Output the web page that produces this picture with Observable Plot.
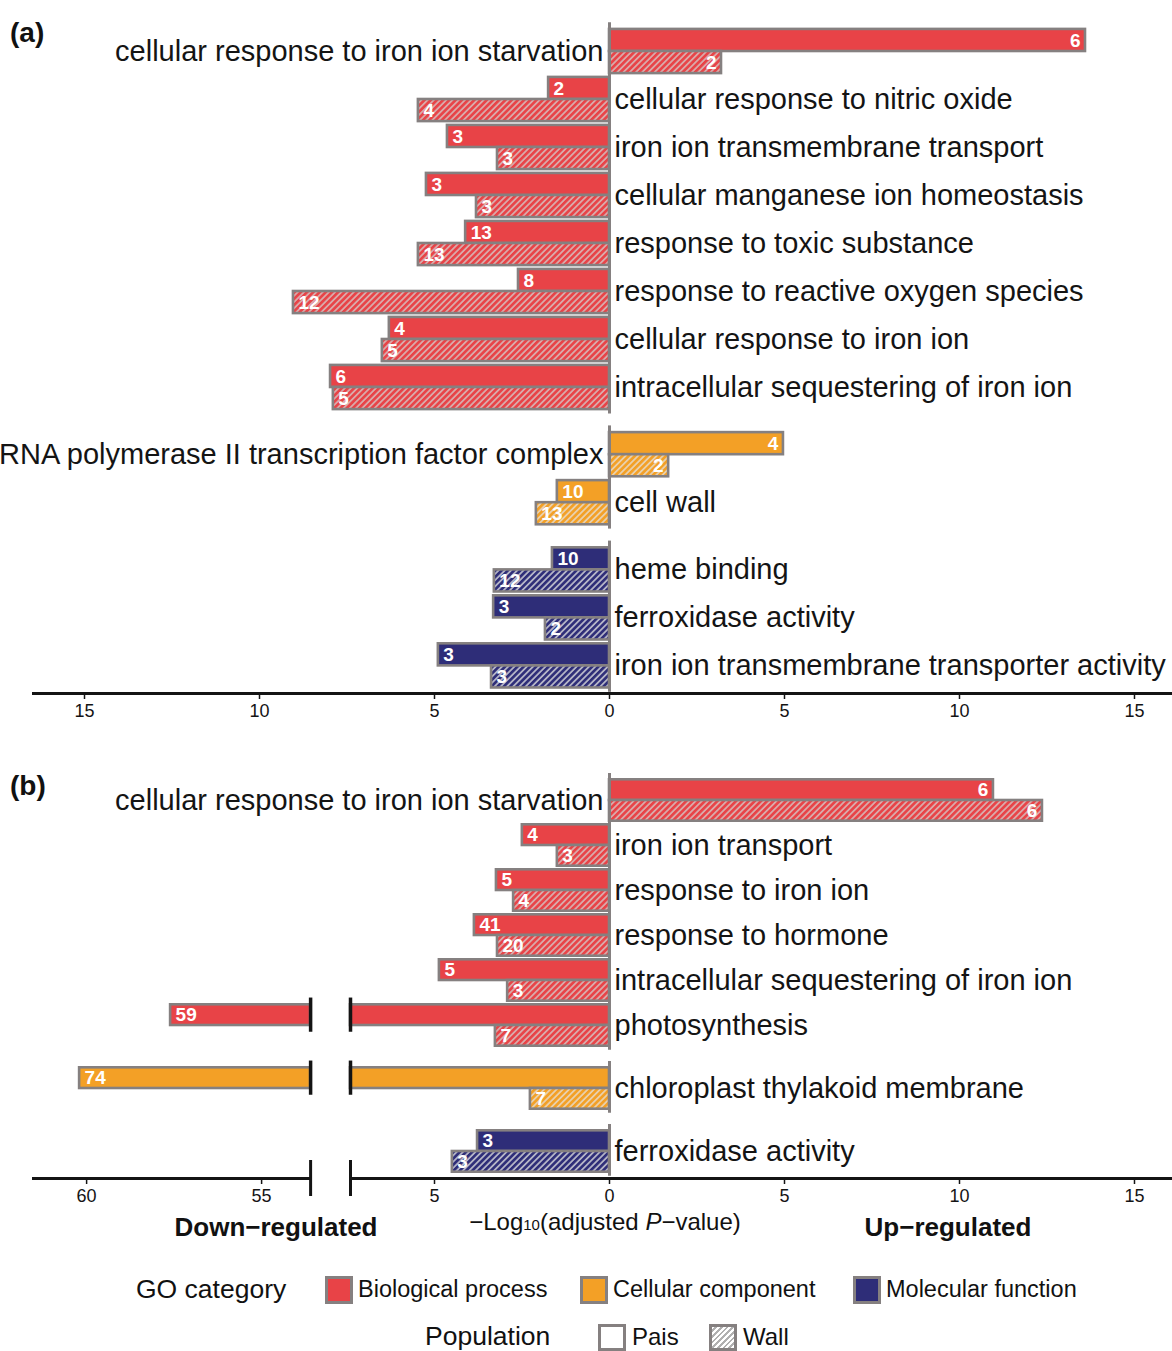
<!DOCTYPE html>
<html><head><meta charset="utf-8">
<script src="https://cdn.jsdelivr.net/npm/d3@7"></script>
<script src="https://cdn.jsdelivr.net/npm/@observablehq/plot@0.6"></script>
<style>
body{margin:0;background:#fff;font-family:"Liberation Sans",Arial,sans-serif;}
#wrap{position:relative;width:1172px;height:1351px;overflow:hidden;}
#wrap svg.plot{position:absolute;left:0;}
.t{position:absolute;white-space:nowrap;color:#111;line-height:1;}
.sw{position:absolute;box-sizing:border-box;border:3px solid #858080;}
</style></head><body><div id="wrap"></div>
<script>
// ---------- data: panel (a) ----------
const termsA = [
  "cellular response to iron ion starvation",
  "cellular response to nitric oxide",
  "iron ion transmembrane transport",
  "cellular manganese ion homeostasis",
  "response to toxic substance",
  "response to reactive oxygen species",
  "cellular response to iron ion",
  "intracellular sequestering of iron ion",
  "RNA polymerase II transcription factor complex",
  "cell wall",
  "heme binding",
  "ferroxidase activity",
  "iron ion transmembrane transporter activity"
];
const catA = ["BP","BP","BP","BP","BP","BP","BP","BP","CC","CC","MF","MF","MF"];
// signed -log10(adj P): negative = down-regulated, positive = up-regulated
const paisA = [13.6, -1.74, -4.63, -5.23, -4.11, -2.6, -6.29, -7.97, 4.97, -1.49, -1.63, -3.31, -4.89];
const wallA = [3.2, -5.46, -3.2, -3.8, -5.46, -9.03, -6.49, -7.89, 1.69, -2.09, -3.29, -1.83, -3.37];
const paisCountA = [6, 2, 3, 3, 13, 8, 4, 6, 4, 10, 10, 3, 3];
const wallCountA = [2, 4, 3, 3, 13, 12, 5, 5, 2, 13, 12, 2, 3];
const ticksA = [-15, -10, -5, 0, 5, 10, 15];

// ---------- data: panel (b) ----------
const termsB = [
  "cellular response to iron ion starvation",
  "iron ion transport",
  "response to iron ion",
  "response to hormone",
  "intracellular sequestering of iron ion",
  "photosynthesis",
  "chloroplast thylakoid membrane",
  "ferroxidase activity"
];
const catB = ["BP","BP","BP","BP","BP","BP","CC","MF"];
const paisB = [10.97, -2.49, -3.23, -3.86, -4.86, -57.6, -60.2, -3.77];
const wallB = [12.37, -1.49, -2.74, -3.2, -2.91, -3.26, -2.26, -4.49];
const paisCountB = [6, 4, 5, 41, 5, 59, 74, 3];
const wallCountB = [6, 3, 4, 20, 3, 7, 7, 3];
const ticksB = [-60, -55, -5, 0, 5, 10, 15];
// broken axis on the down-regulated side: values between 7.4 and 53.6 are cut out
const axisBreakB = {from: 7.4, to: 53.6, gap: 1.14};

// ---------- legend ----------
const goCategories = ["BP", "CC", "MF"];
const goLabels = ["Biological process", "Cellular component", "Molecular function"];
const populations = ["Pais", "Wall"];

// ---------- styles ----------
const COLORS = {BP: "#e84347", CC: "#f3a026", MF: "#2e2d78"};
const HATCH_BG = {BP: "#d9aaaa", CC: "#e9d0ac", MF: "#b4b4c6"};
const OUTLINE = "#858080";
const INK = "#141414";
const SANS = "'Liberation Sans', Arial, sans-serif";
const NARROW = "'Liberation Sans Narrow', 'Liberation Sans', Arial, sans-serif";
const GROUP_GAP = 0.4, BAR = 0.46;
const X_DOMAIN = [-16.486, 16.086];

const wrap = d3.select("#wrap");

// hatch patterns
const defs = wrap.append("svg").attr("width", 0).attr("height", 0)
  .style("position", "absolute").append("defs");
for (const k of goCategories) {
  const s = 4.4;
  const p = defs.append("pattern").attr("id", "hatch-" + k)
    .attr("patternUnits", "userSpaceOnUse").attr("width", s).attr("height", s)
    .attr("patternTransform", "rotate(45)");
  p.append("rect").attr("width", s).attr("height", s).attr("fill", HATCH_BG[k]);
  p.append("line").attr("x1", 1.3).attr("x2", 1.3).attr("y1", 0).attr("y2", s)
    .attr("stroke", COLORS[k]).attr("stroke-width", 2.6);
}

function rowPositions(cats) {
  let g = 0;
  return cats.map((c, i) => { if (i > 0 && c !== cats[i - 1]) g++; return i + g * GROUP_GAP; });
}

function panel({terms, cats, pais, wall, paisN, wallN, ticks, brk, height, marginTop, marginBottom, axisOffset, top}) {
  const pos = rowPositions(cats);
  const shift = brk ? brk.to - brk.from - brk.gap : 0;
  const broken = v => brk && v < -brk.from;
  const disp = v => broken(v) ? v + shift : v;
  const bars = [];
  terms.forEach((t, i) => {
    const r = pos[i];
    bars.push({term: t, cat: cats[i], pop: "Pais", v: pais[i], n: paisN[i], y1: r - BAR, y2: r});
    bars.push({term: t, cat: cats[i], pop: "Wall", v: wall[i], n: wallN[i], y1: r, y2: r + BAR});
  });
  const fillOf = d => d.pop === "Pais" ? COLORS[d.cat] : `url(#hatch-${d.cat})`;
  const pieces = bars.flatMap(b => broken(b.v)
    ? [{...b, x1: 0, x2: -brk.from}, {...b, x1: -(brk.from + brk.gap), x2: disp(b.v)}]
    : [{...b, x1: 0, x2: b.v}]);
  const breakMarks = bars.filter(b => broken(b.v)).flatMap(b =>
    [brk.from, brk.from + brk.gap].map(x => ({x: -x, y1: b.y1 - 0.15, y2: b.y2 + 0.15})));
  // groups for zero line
  const groups = [];
  cats.forEach((c, i) => {
    if (i === 0 || c !== cats[i - 1]) groups.push({y1: pos[i] - 0.6, y2: pos[i] + 0.55});
    else groups[groups.length - 1].y2 = pos[i] + 0.55;
  });
  const axisY = pos[pos.length - 1] + axisOffset;
  const segs = brk
    ? [{x1: X_DOMAIN[0], x2: -(brk.from + brk.gap)}, {x1: -brk.from, x2: X_DOMAIN[1]}]
    : [{x1: X_DOMAIN[0], x2: X_DOMAIN[1]}];
  const axisBreaks = brk ? [-brk.from, -(brk.from + brk.gap)].map(x => ({x})) : [];
  const tickPos = ticks.map(disp);
  const tickLabel = new Map(ticks.map(t => [disp(t), Math.abs(t)]));
  const labels = terms.map((t, i) => ({term: t, y: pos[i], left: pais[i] > 0}));

  const chart = Plot.plot({
    width: 1172, height, marginLeft: 32, marginRight: 0, marginTop, marginBottom,
    x: {domain: X_DOMAIN},
    y: {domain: [pos[0] - 0.5, axisY], reverse: true, axis: null},
    color: {type: "identity"},
    style: {fontFamily: SANS, color: INK, background: "none", overflow: "visible"},
    marks: [
      Plot.rect(pieces, {x1: "x1", x2: "x2", y1: "y1", y2: "y2", fill: fillOf, stroke: OUTLINE, strokeWidth: 2.6}),
      Plot.ruleX(groups, {x: 0, y1: "y1", y2: "y2", stroke: OUTLINE, strokeWidth: 3}),
      Plot.ruleX(breakMarks, {x: "x", y1: "y1", y2: "y2", stroke: INK, strokeWidth: 3.5}),
      Plot.text(bars.filter(d => d.v > 0), {x: d => disp(d.v), y: d => (d.y1 + d.y2) / 2, text: "n",
        textAnchor: "end", dx: -5, fill: "white", fontSize: 19, fontWeight: "bold"}),
      Plot.text(bars.filter(d => d.v < 0), {x: d => disp(d.v), y: d => (d.y1 + d.y2) / 2, text: "n",
        textAnchor: "start", dx: 5, fill: "white", fontSize: 19, fontWeight: "bold"}),
      Plot.text(labels.filter(d => d.left), {x: 0, y: "y", text: "term", textAnchor: "end", dx: -6, fontSize: 29, fill: INK}),
      Plot.text(labels.filter(d => !d.left), {x: 0, y: "y", text: "term", textAnchor: "start", dx: 5, fontSize: 29, fill: INK}),
      Plot.ruleY(segs, {x1: "x1", x2: "x2", y: axisY, stroke: INK, strokeWidth: 3}),
      Plot.ruleX(axisBreaks, {x: "x", y1: axisY - 0.4, y2: axisY + 0.4, stroke: INK, strokeWidth: 3}),
      Plot.axisX(tickPos, {tickFormat: d => tickLabel.get(d), tickSize: 6, tickPadding: 5,
        fontSize: 18, fontFamily: NARROW, strokeWidth: 1.5, stroke: INK, fill: INK})
    ]
  });
  chart.style.top = top + "px";
  return chart;
}

const chartA = panel({terms: termsA, cats: catA, pais: paisA, wall: wallA, paisN: paisCountA, wallN: wallCountA,
  ticks: ticksA, brk: null, height: 745, marginTop: 27, marginBottom: 52, axisOffset: 0.575, top: 0});
const chartB = panel({terms: termsB, cats: catB, pais: paisB, wall: wallB, paisN: paisCountB, wallN: wallCountB,
  ticks: ticksB, brk: axisBreakB, height: 470, marginTop: 32.5, marginBottom: 37, axisOffset: 0.6, top: 745});
wrap.node().appendChild(chartA);
wrap.node().appendChild(chartB);

// ---------- text & legend (HTML) ----------
function text(html, x, cy, size, opts = {}) {
  const el = wrap.append("div").attr("class", "t").html(html)
    .style("font-size", size + "px").style("font-weight", opts.bold ? "bold" : "normal");
  const h = size * 1.02;
  el.style("line-height", h + "px").style("top", (cy - h / 2) + "px");
  if (opts.center) el.style("left", x + "px").style("transform", "translateX(-50%)");
  else el.style("left", x + "px");
  return el;
}
text("(a)", 10, 33, 28, {bold: true});
text("(b)", 10, 786, 28, {bold: true});
text("Down−regulated", 276, 1227, 26, {bold: true, center: true});
text("Up−regulated", 948, 1227, 26, {bold: true, center: true});
text("−Log<span style='font-size:15px'>10</span>(adjusted <i>P</i>−value)", 605, 1222, 24, {center: true});

text("GO category", 136, 1290, 26.5);
const swX = [325, 580, 853];
goCategories.forEach((k, i) => {
  wrap.append("div").attr("class", "sw").style("left", swX[i] + "px").style("top", "1276px")
    .style("width", "28px").style("height", "28px").style("background", COLORS[k]);
  text(goLabels[i], swX[i] + 33, 1290, 23.5);
});
text("Population", 425, 1337, 26.5);
const popX = [598, 709];
populations.forEach((p, i) => {
  wrap.append("div").attr("class", "sw").style("left", popX[i] + "px").style("top", "1324px")
    .style("width", "28px").style("height", "27px")
    .style("background", p === "Pais" ? "#fff" : "repeating-linear-gradient(135deg, #fff 0 2px, #b0b0b0 2px 4px)");
  text(p, popX[i] + 34, 1337, 24);
});
</script></body></html>
